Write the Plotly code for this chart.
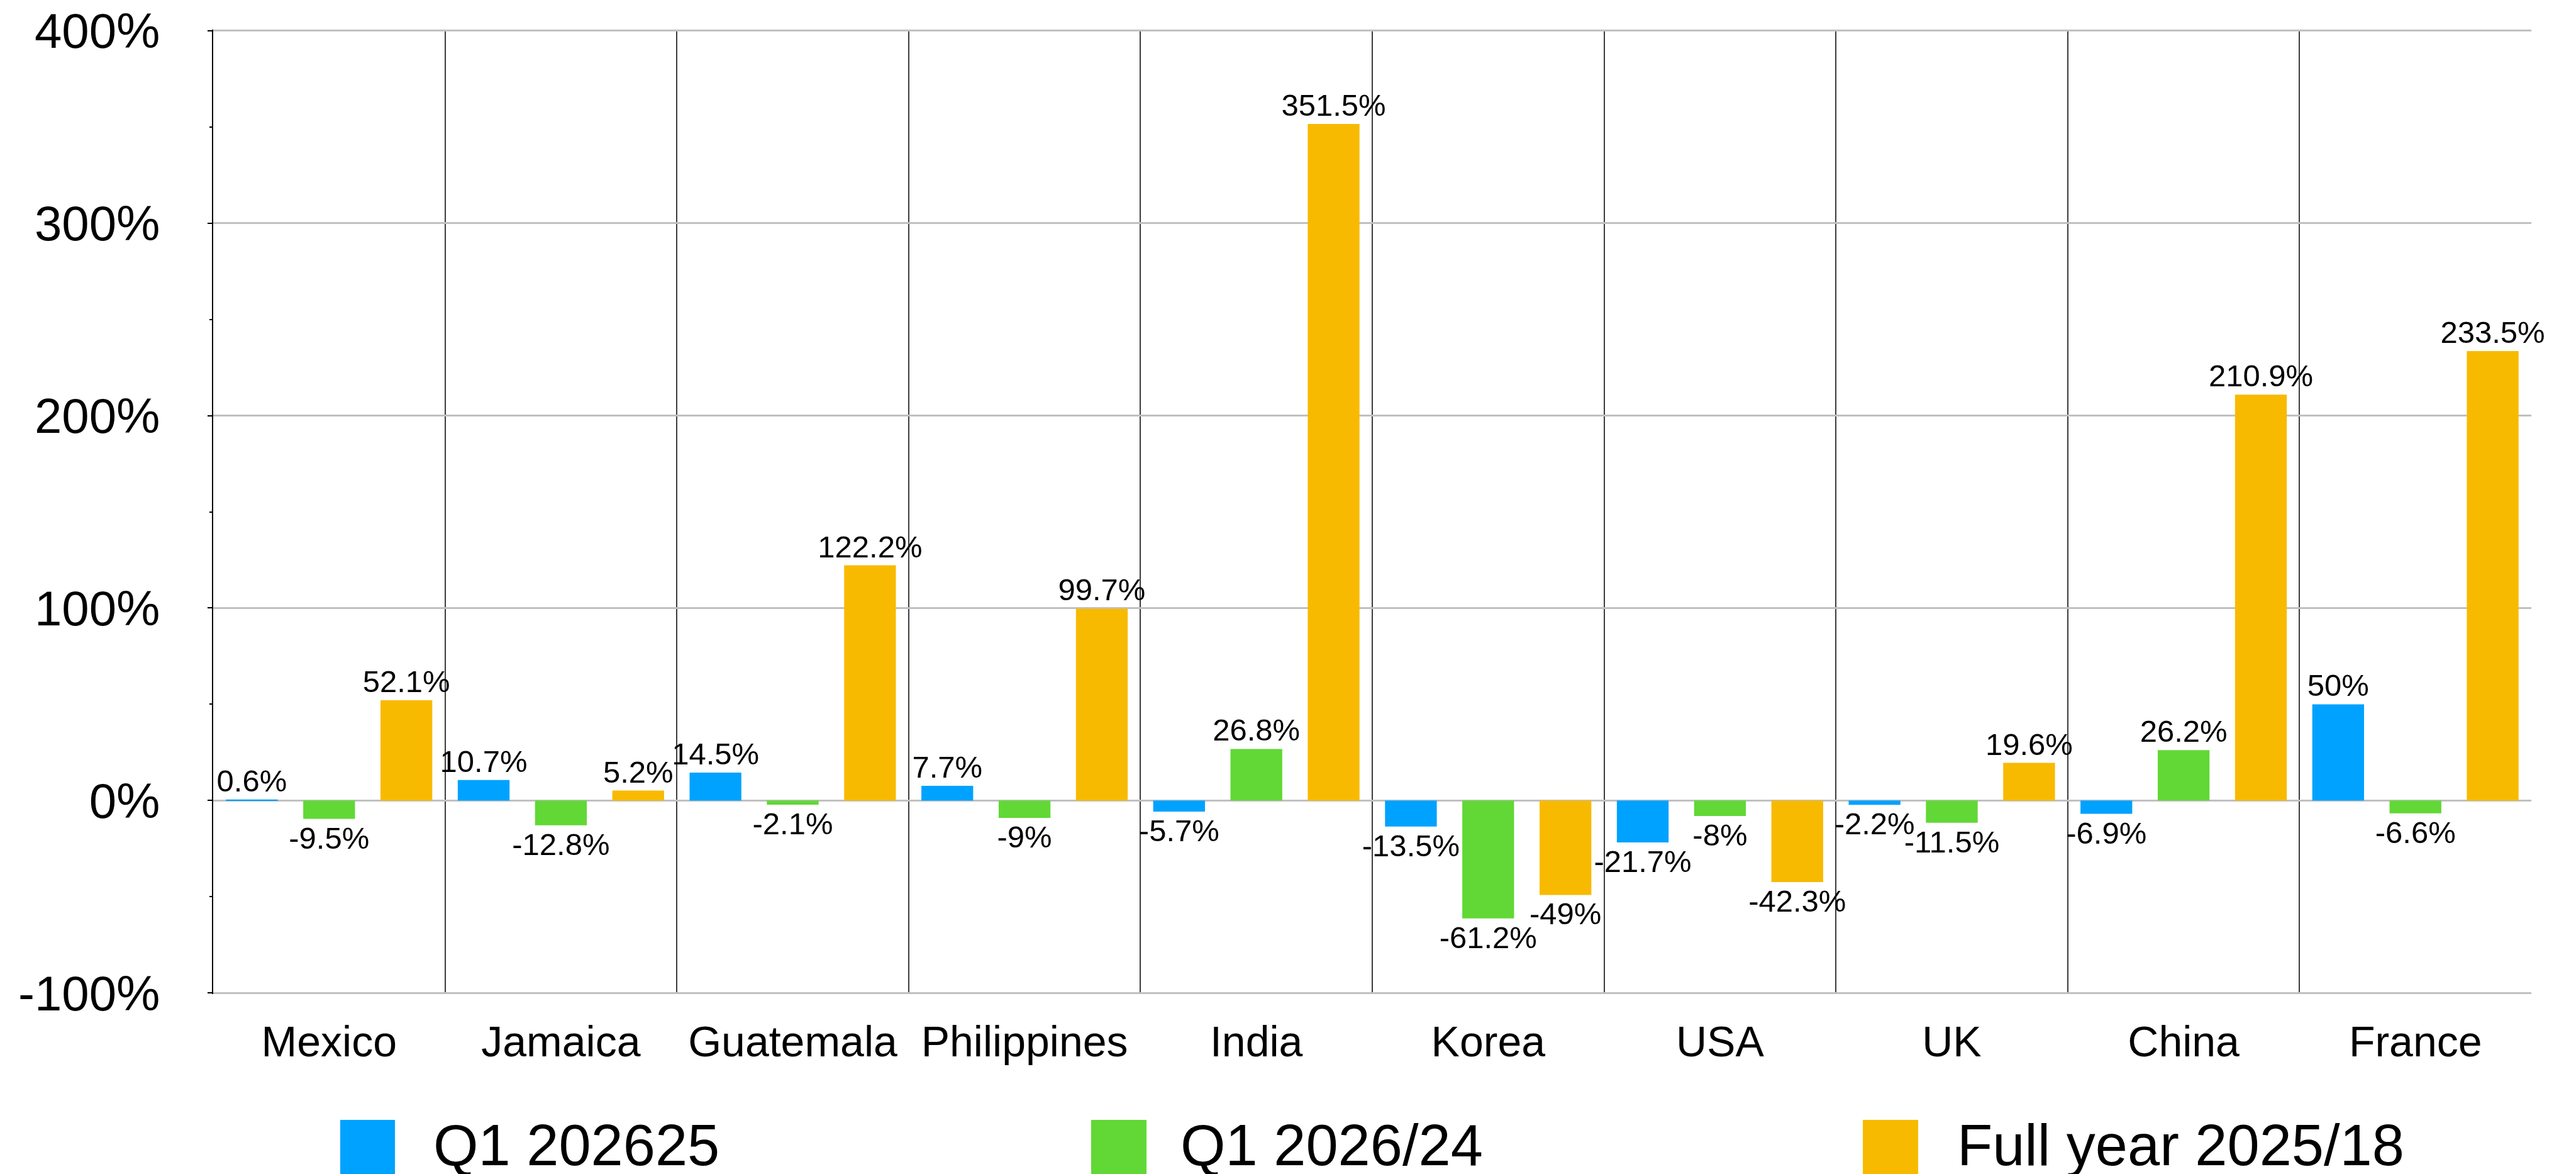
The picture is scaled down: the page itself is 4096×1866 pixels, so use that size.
import plotly.graph_objects as go

categories = ["Mexico", "Jamaica", "Guatemala", "Philippines", "India", "Korea", "USA", "UK", "China", "France"]
series_names = ["Q1 202625", "Q1 2026/24", "Full year 2025/18"]
q1_2025 = [0.6, 10.7, 14.5, 7.7, -5.7, -13.5, -21.7, -2.2, -6.9, 50]
q1_2026 = [-9.5, -12.8, -2.1, -9, 26.8, -61.2, -8, -11.5, 26.2, -6.6]
full_year = [52.1, 5.2, 122.2, 99.7, 351.5, -49, -42.3, 19.6, 210.9, 233.5]
colors = ["#00A2FF", "#61D836", "#F8BA00"]
y_tickvals = [-100, 0, 100, 200, 300, 400]
y_ticktext = ["-100%", "0%", "100%", "200%", "300%", "400%"]

FONT = "Liberation Sans, Arial, Helvetica, sans-serif"
W, H = 4096, 1866
L, R, T, B = 331, 79, 39, 294
PW = W - L - R
PH = H - T - B


def px_x(px):
    return (px - L) / PW


def px_y(py):
    return (H - B - py) / PH


fig = go.Figure()
for name, vals, col in zip(series_names, [q1_2025, q1_2026, full_year], colors):
    fig.add_trace(go.Bar(
        x=categories, y=vals, name=name,
        marker=dict(color=col, line=dict(width=0)),
        text=[f"{v:g}%" for v in vals],
        textposition="outside", textangle=0,
        constraintext="none", cliponaxis=False,
        textfont=dict(family=FONT, size=49, color="black"),
        showlegend=False, hoverinfo="skip",
    ))

# manual legend (large square swatches)
leg_sq = [(533, 620, 679), (1727, 1815, 1867), (2954, 3042, 3102)]
for (x0, x1, xt), name, col in zip(leg_sq, series_names, colors):
    fig.add_shape(type="rect", xref="paper", yref="paper",
                  x0=px_x(x0), x1=px_x(x1), y0=px_y(1860), y1=px_y(1772),
                  fillcolor=col, line=dict(width=0))
    fig.add_annotation(xref="paper", yref="paper", x=px_x(xt), y=px_y(1812),
                       text=name, showarrow=False, xanchor="left", yanchor="middle",
                       font=dict(family=FONT, size=92, color="black"))

fig.update_layout(
    width=W, height=H,
    margin=dict(l=L, r=R, t=T, b=B, pad=0, autoexpand=False),
    paper_bgcolor="white", plot_bgcolor="white",
    barmode="group", bargap=0, bargroupgap=0.33,
    font=dict(family=FONT, color="black"),
    showlegend=False,
)
fig.update_xaxes(
    type="category", tickson="boundaries", automargin=False,
    showgrid=True, gridcolor="#3C3C3C", gridwidth=2,
    showline=False, ticks="", ticklabelstandoff=30,
    tickfont=dict(family=FONT, size=68, color="black"),
)
fig.update_yaxes(
    range=[-100.5, 400.5], tickmode="array", tickvals=y_tickvals, ticktext=y_ticktext,
    automargin=False,
    showgrid=True, gridcolor="#C0C0C0", gridwidth=2.5,
    zeroline=True, zerolinecolor="#C0C0C0", zerolinewidth=2.5,
    showline=True, linecolor="black", linewidth=2,
    ticks="outside", ticklen=7, tickwidth=2, tickcolor="black",
    minor=dict(tickvals=[-50, 50, 150, 250, 350], ticks="outside", ticklen=4, tickwidth=2, tickcolor="black", showgrid=False),
    ticklabelstandoff=60, ticklabeloverflow="allow",
    tickfont=dict(family=FONT, size=78, color="black"),
)

fig.write_html("out.html")
